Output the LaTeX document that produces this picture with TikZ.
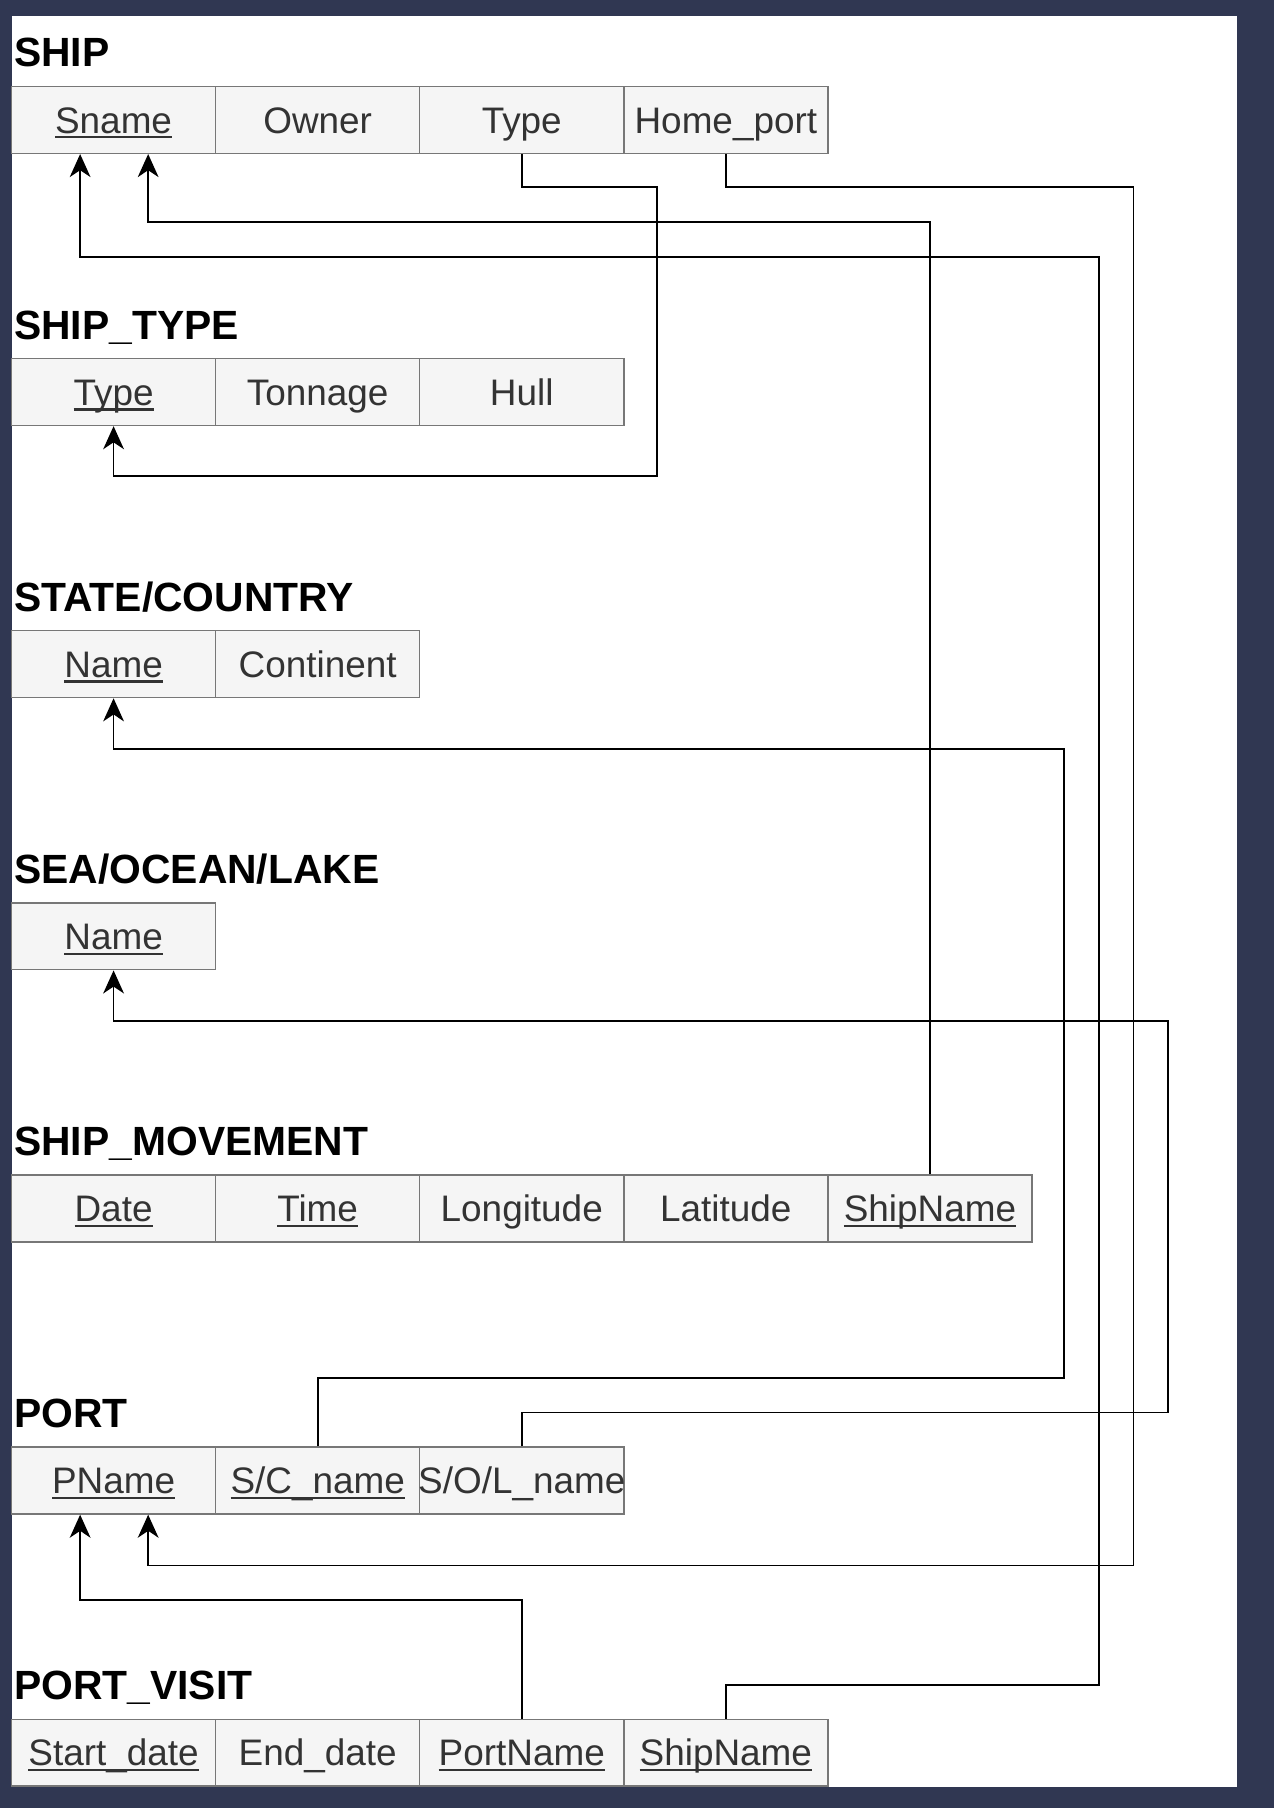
\documentclass[tikz,border=0pt]{standalone}
\usepackage{fontspec}
\setmainfont{Liberation Sans}
\usetikzlibrary{arrows.meta}
\definecolor{bgdark}{HTML}{303752}
\definecolor{cellfill}{HTML}{F5F5F5}
\definecolor{cellline}{HTML}{777777}
\definecolor{celltext}{HTML}{333333}
\newcommand{\ulin}[1]{\setbox0\hbox{#1}\rlap{\rule[-2.3pt]{\wd0}{1pt}}\box0}
\tikzset{
  cell/.style={draw=cellline, fill=cellfill, line width=0.6pt, minimum width=88.5pt,
    minimum height=29pt, inner sep=0pt, text=celltext, font=\fontsize{16}{18}\selectfont,
    text height=11.5pt, text depth=0pt},
  ttl/.style={anchor=base west, inner sep=0pt, font=\fontsize{17.7}{20}\selectfont\bfseries},
  fk/.style={draw=black, line width=0.75pt, -{Stealth[length=10pt,width=9pt,inset=3pt]}}
}
\begin{document}
\begin{tikzpicture}[x=0.5pt,y=-0.5pt]
\useasboundingbox (0,0) rectangle (1105,1568);
\fill[bgdark] (0,0) rectangle (1105,1568);
\fill[white] (10,14) rectangle (1073,1550);

% SHIP
\node[ttl] (tShip) at (12,58) {SHIP};
\node[cell] (shSname) at (98.5,104) {\ulin{Sname}};
\node[cell] (shOwner) at (275.5,104) {Owner};
\node[cell] (shType) at (452.5,104) {Type};
\node[cell] (shHome) at (629.5,104) {Home\_port};

% SHIP_TYPE
\node[ttl] (tShipType) at (12,294) {SHIP\_TYPE};
\node[cell] (stType) at (98.5,340) {\ulin{Type}};
\node[cell] (stTon) at (275.5,340) {Tonnage};
\node[cell] (stHull) at (452.5,340) {Hull};

% STATE/COUNTRY
\node[ttl] (tState) at (12,530) {STATE/COUNTRY};
\node[cell] (scName) at (98.5,576) {\ulin{Name}};
\node[cell] (scCont) at (275.5,576) {Continent};

% SEA/OCEAN/LAKE
\node[ttl] (tSea) at (12,766) {SEA/OCEAN/LAKE};
\node[cell] (seaName) at (98.5,812) {\ulin{Name}};

% SHIP_MOVEMENT
\node[ttl] (tMove) at (12,1002) {SHIP\_MOVEMENT};
\node[cell] (smDate) at (98.5,1048) {\ulin{Date}};
\node[cell] (smTime) at (275.5,1048) {\ulin{Time}};
\node[cell] (smLong) at (452.5,1048) {Longitude};
\node[cell] (smLat) at (629.5,1048) {Latitude};
\node[cell] (smShip) at (806.5,1048) {\ulin{ShipName}};

% PORT
\node[ttl] (tPort) at (12,1238) {PORT};
\node[cell] (pPName) at (98.5,1284) {\ulin{PName}};
\node[cell] (pSC) at (275.5,1284) {\ulin{S/C\_name}};
\node[cell] (pSOL) at (452.5,1284) {\makebox[0pt][c]{S/O/L\_name}};

% PORT_VISIT
\node[ttl] (tVisit) at (12,1474) {PORT\_VISIT};
\node[cell] (pvStart) at (98.5,1520) {\ulin{Start\_date}};
\node[cell] (pvEnd) at (275.5,1520) {End\_date};
\node[cell] (pvPort) at (452.5,1520) {\ulin{PortName}};
\node[cell] (pvShip) at (629.5,1520) {\ulin{ShipName}};

% connectors
\draw[fk] (shType.south) |- (570,162) |- ([yshift=-21.5pt]stType.south) -- (stType.south);
\draw[fk] (shHome.south) |- (983,162) |- ([xshift=15pt,yshift=-22pt]pPName.south) -- ([xshift=15pt]pPName.south);
\draw[fk] (smShip.north) |- ([xshift=15pt,yshift=-29.5pt]shSname.south) -- ([xshift=15pt]shSname.south);
\draw[fk] (pvShip.north) |- (953,1461) |- ([xshift=-14.5pt,yshift=-44.5pt]shSname.south) -- ([xshift=-14.5pt]shSname.south);
\draw[fk] (pSC.north) |- (923,1195) |- ([yshift=-22pt]scName.south) -- (scName.south);
\draw[fk] (pSOL.north) |- (1013,1225) |- ([yshift=-22pt]seaName.south) -- (seaName.south);
\draw[fk] (pvPort.north) |- ([xshift=-14.5pt,yshift=-37pt]pPName.south) -- ([xshift=-14.5pt]pPName.south);
\end{tikzpicture}
\end{document}
